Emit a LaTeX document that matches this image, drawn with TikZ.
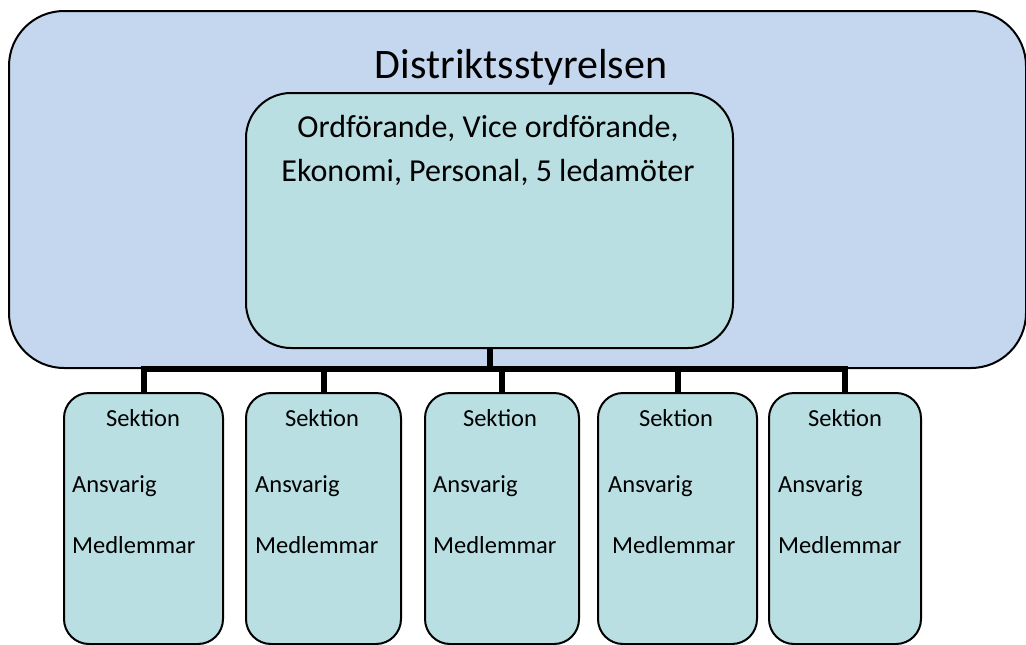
\documentclass[tikz,border=0pt]{standalone}
\usepackage{fontspec}
\setmainfont{Carlito}
\usepackage{xcolor}
\usetikzlibrary{positioning}

\definecolor{boardblue}{HTML}{C4D7EE}
\definecolor{sectcyan}{HTML}{B9DFE3}

\tikzset{
  board/.style={draw, line width=2pt, fill=boardblue, rounded corners=55pt, inner sep=0pt, anchor=north west},
  chair/.style={draw, line width=2pt, fill=sectcyan, rounded corners=45pt, inner sep=0pt, anchor=north west},
  sectbox/.style={draw, line width=2pt, fill=sectcyan, rounded corners=25pt, inner sep=0pt, anchor=north west, minimum height=251pt},
  sectlabel/.style={inner sep=0pt, font=\fontsize{24.5}{30}\selectfont},
  link/.style={line width=6pt}
}

\begin{document}
\begin{tikzpicture}[x=1pt, y=-1pt]
\useasboundingbox (0,0) rectangle (1026,645);

% Board
\node[board, minimum width=1017pt, minimum height=357pt] (board) at (8,10) {};
\node[anchor=base, inner sep=0pt, font=\fontsize{42}{50}\selectfont] (title) at (521,78) {Distriktsstyrelsen};

% Chair group
\node[chair, minimum width=487pt, minimum height=255pt] (chair) at (245,92) {};
\node[anchor=base, align=center, inner sep=0pt, font=\fontsize{32}{44}\selectfont] (roles) at (488,181)
  {Ordförande, Vice ordförande,\\Ekonomi, Personal, 5 ledamöter};

% Sections
\node[sectbox, minimum width=159pt] (s1) at (63,392) {};
\node[sectbox, minimum width=155pt] (s2) at (245,392) {};
\node[sectbox, minimum width=154pt] (s3) at (424,392) {};
\node[sectbox, minimum width=159pt] (s4) at (597,392) {};
\node[sectbox, minimum width=152pt] (s5) at (768,392) {};

% Connectors
\coordinate (bar) at (488,369);
\draw[link] (chair.south) -- (chair.south |- bar);
\draw[link] (s1.north) -- (s1.north |- bar) -- (s5.north |- bar) -- (s5.north);
\draw[link] (s2.north) -- (s2.north |- bar);
\draw[link] (s3.north) -- (s3.north |- bar);
\draw[link] (s4.north) -- (s4.north |- bar);

% Section texts
\node[sectlabel, anchor=base] (sek1) at (143,426) {Sektion};
\node[sectlabel, anchor=base west] (ans1) at (72,492) {Ansvarig};
\node[sectlabel, anchor=base west] (med1) at (72,553) {Medlemmar};

\node[sectlabel, anchor=base] (sek2) at (322,426) {Sektion};
\node[sectlabel, anchor=base west] (ans2) at (255,492) {Ansvarig};
\node[sectlabel, anchor=base west] (med2) at (255,553) {Medlemmar};

\node[sectlabel, anchor=base] (sek3) at (500,426) {Sektion};
\node[sectlabel, anchor=base west] (ans3) at (433,492) {Ansvarig};
\node[sectlabel, anchor=base west] (med3) at (433,553) {Medlemmar};

\node[sectlabel, anchor=base] (sek4) at (676,426) {Sektion};
\node[sectlabel, anchor=base west] (ans4) at (608,492) {Ansvarig};
\node[sectlabel, anchor=base west] (med4) at (612,553) {Medlemmar};

\node[sectlabel, anchor=base] (sek5) at (845,426) {Sektion};
\node[sectlabel, anchor=base west] (ans5) at (778,492) {Ansvarig};
\node[sectlabel, anchor=base west] (med5) at (778,553) {Medlemmar};
\end{tikzpicture}
\end{document}
